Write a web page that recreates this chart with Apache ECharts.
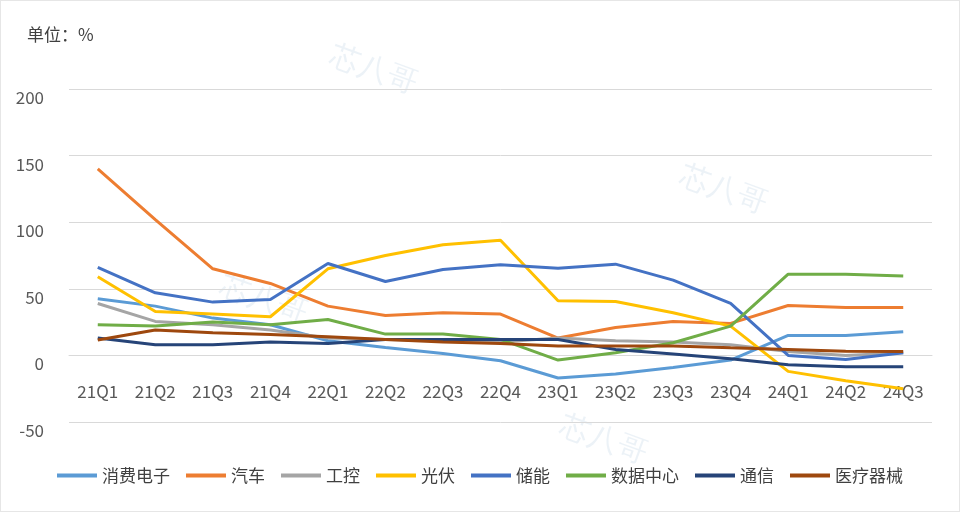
<!DOCTYPE html>
<html><head><meta charset="utf-8">
<script src="https://cdn.jsdelivr.net/npm/echarts@6/dist/echarts.min.js"></script>
<style>html,body{margin:0;padding:0;background:#fff}#c{width:960px;height:512px;box-sizing:border-box;border:1px solid #e6e6e6}</style>
</head><body><div id="c"></div>
<script>
const categories = ['21Q1','21Q2','21Q3','21Q4','22Q1','22Q2','22Q3','22Q4','23Q1','23Q2','23Q3','23Q4','24Q1','24Q2','24Q3'];
const seriesNames = ['消费电子','汽车','工控','光伏','储能','数据中心','通信','医疗器械'];
const consumer = [42.5,37,28,23,11,6,1.5,-4,-17,-14,-9,-3.5,15,15,17.7];
const auto = [140,102,65,54,37,30,32,31,13,21,25.5,24,37.5,36,36];
const industrial = [39,25.5,23,19,13,12,11,10,13,11,10,8,3,0,2];
const solar = [59,33,31,29,65,75,83,86.5,41,40.5,32,22,-12,-19,-25];
const storage = [66,47,40,42,69,55.5,64.5,68,65.5,68.5,56.5,39,0,-3,2];
const datacenter = [23,22,25,23,27,16,16,12,-3.5,2,9.5,22,61,61,59.7];
const telecom = [13,8,8,10,9,12,12,12,12,4.5,1,-2.5,-7,-8.5,-8.5];
const medical = [11.5,19,17,15.7,14,12,10,9,7,7,7,5.7,4.5,3.2,3];
const yTicks = [-50,0,50,100,150,200];

const dataList = [consumer,auto,industrial,solar,storage,datacenter,telecom,medical];
const colors = ['#5B9BD5','#ED7D31','#A5A5A5','#FFC000','#4472C4','#70AD47','#264478','#9E480E'];
const chart = echarts.init(document.getElementById('c'));
const font = '"Microsoft YaHei","Noto Sans CJK SC",sans-serif';
const gridTop = 88, gridBottom = 89, H = 512;
const plotH = H - gridTop - gridBottom;
const zeroOffset = plotH * (0 - yTicks[0]) / (yTicks[yTicks.length-1] - yTicks[0]);
const wm = (x,y) => ({type:'text', left:x, top:y, rotation:-0.35, z:-1, silent:true,
  style:{text:'芯八哥', fontSize:30, fill:'rgba(170,195,220,0.22)', font:'30px "Noto Sans CJK SC"'}});
chart.setOption({
  animation:false,
  color: colors,
  graphic:[wm(325,40), wm(675,160), wm(215,270), wm(555,410)],
  title:{text:'单位：%', left:21, top:20, textStyle:{fontSize:17, fontWeight:'normal', color:'#404040', fontFamily:font}},
  legend:{bottom:22, left:'center', itemWidth:40, itemHeight:4, itemGap:16, icon:'rect',
    textStyle:{fontSize:17, color:'#404040', fontFamily:font},
    data: seriesNames},
  grid:{left:68, right:27, top:gridTop, bottom:gridBottom},
  xAxis:{type:'category', data:categories, boundaryGap:true, offset:-zeroOffset,
    axisLine:{onZero:false, lineStyle:{color:'#d9d9d9', width:1}}, axisTick:{show:false},
    axisLabel:{margin:28, fontSize:17, color:'#595959', fontFamily:font}},
  yAxis:{type:'value', min:yTicks[0], max:yTicks[yTicks.length-1], interval:50,
    axisLine:{show:false}, axisTick:{show:false},
    splitLine:{lineStyle:{color:'#d9d9d9', width:1}},
    axisLabel:{fontSize:17, color:'#595959', fontFamily:font, align:'right', verticalAlign:'top', margin:25}},
  series: seriesNames.map((n,i)=>({name:n, type:'line', data:dataList[i], symbol:'none',
    lineStyle:{width:3, color:colors[i]}, itemStyle:{color:colors[i]}}))
});
</script></body></html>
